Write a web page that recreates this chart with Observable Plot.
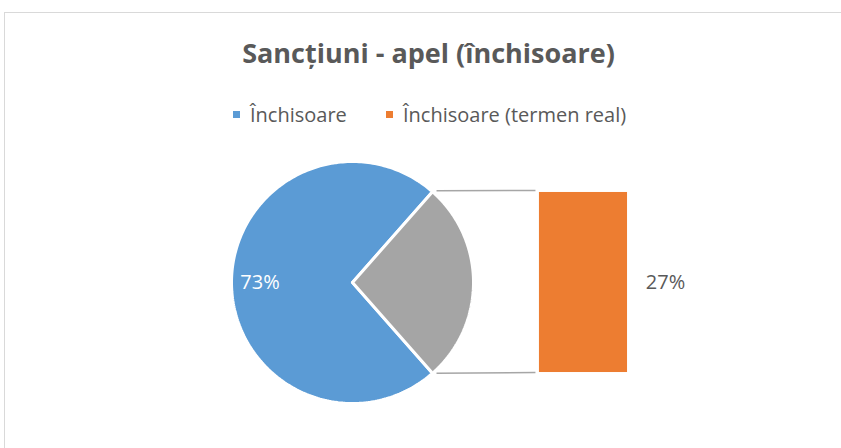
<!DOCTYPE html>
<html><head><meta charset="utf-8">
<script src="https://cdn.jsdelivr.net/npm/d3@7"></script>
<script src="https://cdn.jsdelivr.net/npm/@observablehq/plot@0.6"></script>
<style>
body{margin:0;background:#fff;overflow:hidden;font-family:"Open Sans",Lato,sans-serif;}
#frame{position:absolute;left:4px;top:12px;width:900px;height:500px;border:1.5px solid #d9d9d9;box-sizing:border-box;pointer-events:none}
#wrap{width:841px}
#title{padding-top:39px;height:27px;line-height:27px;font-size:27px;font-weight:700;color:#595959;text-align:center;padding-left:16px;white-space:nowrap}
#legend{margin-top:39px;height:20px;line-height:20px;font-size:20px;color:#595959;display:flex;padding-left:233px;white-space:nowrap}
#legend .item{display:flex;align-items:center}
#legend .item:first-child{width:153px}
#legend .sw{width:7px;height:7px;margin-right:10px;flex:none;margin-top:-2px}
#chart{margin-top:10px;height:313px}
</style></head>
<body>
<div id="frame"></div>
<div id="wrap">
  <div id="title"></div>
  <div id="legend"></div>
  <div id="chart"></div>
</div>
<script>
// ---- data ----
const title = "Sancțiuni - apel (închisoare)";
const categories = ["Închisoare", "Închisoare (termen real)"];
const pieValues = [73, 27];          // main pie: Închisoare, rest (split out to bar)
const barValues = [27];              // secondary bar: Închisoare (termen real)
const pieLabels = ["73%"];
const barLabels = ["27%"];

// ---- styles ----
const colors = {main: "#5b9bd5", other: "#a5a5a5", bar: "#ed7d31", text: "#595959", connector: "#a6a6a6"};
const legendColors = [colors.main, colors.bar];

document.getElementById("title").textContent = title;
const legend = document.getElementById("legend");
categories.forEach((c, i) => {
  const it = document.createElement("div"); it.className = "item";
  const sw = document.createElement("span"); sw.className = "sw"; sw.style.background = legendColors[i];
  const tx = document.createElement("span"); tx.textContent = c;
  it.append(sw, tx); legend.append(it);
});

// ---- geometry (pixel layout -> unit scales, pie radius = 1) ----
const W = 841, H = 313, cx = 352, cy = 147, R = 121;
const xDomain = [-cx / R, (W - cx) / R];
const yDomain = [-(H - cy) / R, cy / R];

const total = d3.sum(pieValues);
const half = Math.PI * pieValues[1] / total; // half-angle of split slice, centered east
function slice(a0, a1) {
  const n = 240, pts = [{x: 0, y: 0}];
  for (let i = 0; i <= n; i++) {
    const a = a0 + (a1 - a0) * i / n;
    pts.push({x: Math.cos(a), y: Math.sin(a)});
  }
  pts.push({x: 0, y: 0});
  return pts;
}
const mainSlice = slice(half, 2 * Math.PI - half);
const otherSlice = slice(-half, half);

// bar: secondary stack, full height = 1.488 units, left edge 1.545
const barX1 = 1.545, barX2 = 2.273, barH = 1.488;
const barTotal = d3.sum(barValues);
let acc = -barH / 2;
const bars = barValues.map(v => { const y1 = acc; acc += v / barTotal * barH; return {x1: barX1, x2: barX2, y1, y2: acc}; });
const barTop = bars[bars.length - 1].y2, barBot = bars[0].y1;
const gap = 4 / R;
const connectors = [
  {x1: Math.cos(half) + gap, y1: Math.sin(half) + 1 / R, x2: barX1 - gap, y2: barTop + 2 / R},
  {x1: Math.cos(half) + gap, y1: -Math.sin(half), x2: barX1 - gap, y2: barBot}
];

const chart = Plot.plot({
  width: W, height: H, margin: 0,
  x: {domain: xDomain, range: [0, W], axis: null},
  y: {domain: yDomain, range: [H, 0], axis: null},
  style: {fontFamily: "'Open Sans', Lato, sans-serif", background: "transparent", overflow: "visible"},
  marks: [
    Plot.line(mainSlice, {x: "x", y: "y", fill: colors.main, stroke: "white", strokeWidth: 3, strokeLinejoin: "miter"}),
    Plot.line(otherSlice, {x: "x", y: "y", fill: colors.other, stroke: "white", strokeWidth: 3, strokeLinejoin: "miter"}),
    Plot.link(connectors, {x1: "x1", y1: "y1", x2: "x2", y2: "y2", stroke: colors.connector, strokeWidth: 1.5}),
    Plot.rect(bars, {x1: "x1", x2: "x2", y1: "y1", y2: "y2", fill: colors.bar}),
    Plot.text(pieLabels, {x: [-0.764], y: [0], text: d => d, fill: "white", fontSize: 20}),
    Plot.text(barLabels, {x: [2.587], y: [0], text: d => d, fill: colors.text, fontSize: 20})
  ]
});
document.getElementById("chart").append(chart);
</script>
</body></html>
